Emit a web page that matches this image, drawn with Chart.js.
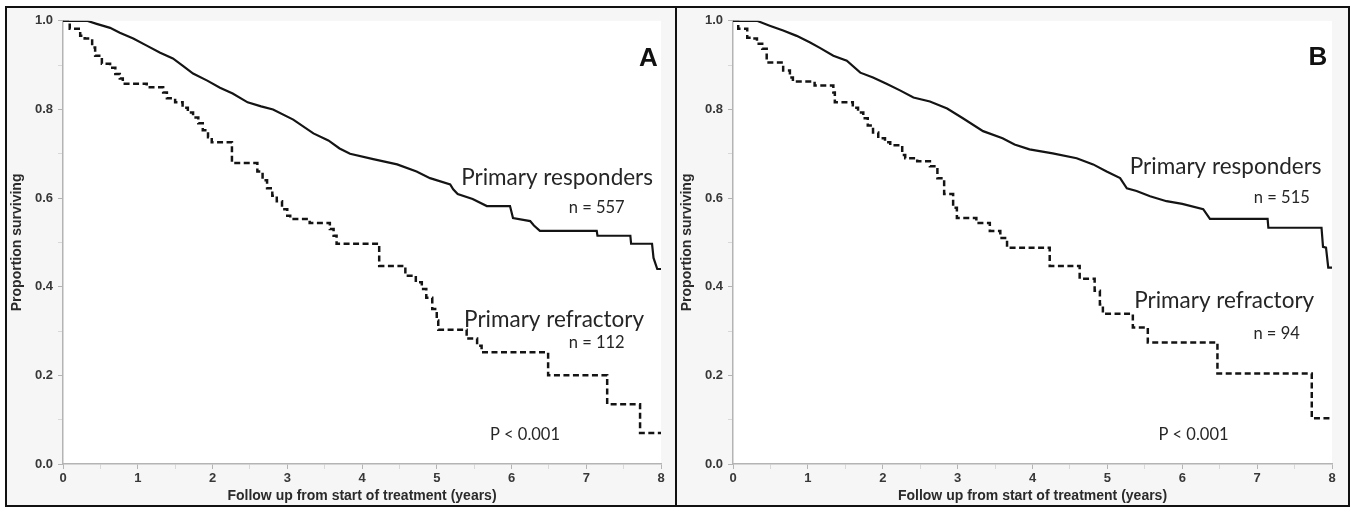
<!DOCTYPE html>
<html>
<head>
<meta charset="utf-8">
<script src="https://cdn.jsdelivr.net/npm/chart.js@4.4.1/dist/chart.umd.min.js"></script>
<style>
  html, body { margin: 0; padding: 0; background: #fff; }
  body { width: 1355px; height: 508px; position: relative; overflow: hidden; }
  .panel { position: absolute; top: 6px; height: 497px; border: 2px solid #111; background: #f6f6f6; }
  #pa { left: 5px; width: 668px; }
  #pb { left: 677px; width: 671px; border-left: none; }
  canvas { display: block; }
</style>
</head>
<body>
<div class="panel" id="pa"><canvas id="chartA" width="668" height="497"></canvas></div>
<div class="panel" id="pb"><canvas id="chartB" width="671" height="497"></canvas></div>
<script>
/* Kaplan-Meier curves, two panels.
   Times in years, survival as proportion. */
var aRespT = [0, 0.32, 0.45, 0.63, 0.76, 0.94, 1.12, 1.3, 1.47, 1.6, 1.74, 1.93, 2.1, 2.27, 2.47, 2.65, 2.81, 3.08, 3.35, 3.55, 3.7, 3.84, 4.15, 4.47, 4.73, 4.91, 5.18, 5.22, 5.28, 5.48, 5.67, 5.98, 6.02, 6.25, 6.3, 6.38, 7.14, 7.15, 7.59, 7.6, 7.88, 7.9, 7.93, 7.95, 8.0];
var aRespS = [1, 1, 0.993, 0.984, 0.973, 0.96, 0.944, 0.928, 0.915, 0.899, 0.881, 0.865, 0.849, 0.836, 0.816, 0.807, 0.80, 0.777, 0.746, 0.73, 0.712, 0.70, 0.688, 0.676, 0.66, 0.645, 0.631, 0.62, 0.609, 0.598, 0.582, 0.582, 0.555, 0.548, 0.538, 0.526, 0.526, 0.515, 0.515, 0.497, 0.497, 0.465, 0.45, 0.44, 0.44];
var aRefrT = [0, 0.09, 0.23, 0.29, 0.39, 0.43, 0.52, 0.63, 0.7, 0.76, 0.8, 1.12, 1.34, 1.39, 1.5, 1.6, 1.67, 1.74, 1.81, 1.87, 1.94, 1.99, 2.26, 2.6, 2.67, 2.73, 2.8, 2.86, 2.93, 3.0, 3.04, 3.3, 3.57, 3.62, 3.66, 4.23, 4.58, 4.72, 4.8, 4.86, 4.94, 5.0, 5.02, 5.4, 5.54, 5.6, 6.49, 7.28, 7.72, 8.0];
var aRefrS = [1, 0.982, 0.966, 0.96, 0.94, 0.921, 0.903, 0.894, 0.88, 0.87, 0.858, 0.85, 0.838, 0.825, 0.816, 0.804, 0.793, 0.782, 0.769, 0.753, 0.737, 0.726, 0.679, 0.66, 0.64, 0.622, 0.605, 0.593, 0.575, 0.56, 0.553, 0.544, 0.53, 0.515, 0.497, 0.447, 0.425, 0.41, 0.395, 0.375, 0.35, 0.324, 0.303, 0.283, 0.267, 0.252, 0.20, 0.135, 0.07, 0.07];

var bRespT = [0, 0.32, 0.49, 0.67, 0.85, 1.03, 1.16, 1.34, 1.52, 1.7, 1.87, 2.05, 2.23, 2.41, 2.63, 2.86, 3.07, 3.34, 3.6, 3.76, 3.96, 4.27, 4.59, 4.81, 4.99, 5.17, 5.26, 5.39, 5.57, 5.79, 6.0, 6.28, 6.37, 7.14, 7.15, 7.86, 7.88, 7.92, 7.95, 8.0];
var bRespS = [1, 1, 0.989, 0.978, 0.966, 0.951, 0.939, 0.921, 0.91, 0.883, 0.872, 0.858, 0.843, 0.827, 0.818, 0.802, 0.78, 0.751, 0.735, 0.721, 0.71, 0.701, 0.69, 0.676, 0.66, 0.645, 0.622, 0.616, 0.604, 0.593, 0.587, 0.575, 0.553, 0.553, 0.533, 0.533, 0.49, 0.488, 0.443, 0.443];
var bRefrT = [0, 0.07, 0.19, 0.25, 0.32, 0.39, 0.45, 0.67, 0.76, 0.8, 1.09, 1.34, 1.36, 1.6, 1.67, 1.74, 1.8, 1.87, 1.94, 2.03, 2.1, 2.26, 2.3, 2.46, 2.63, 2.73, 2.82, 2.94, 2.99, 3.25, 3.43, 3.57, 3.66, 4.23, 4.63, 4.83, 4.9, 4.94, 5.34, 5.54, 6.47, 7.73, 8.0];
var bRefrS = [1, 0.982, 0.962, 0.96, 0.948, 0.937, 0.906, 0.888, 0.872, 0.863, 0.854, 0.838, 0.816, 0.804, 0.793, 0.78, 0.764, 0.748, 0.735, 0.726, 0.719, 0.697, 0.69, 0.683, 0.672, 0.645, 0.609, 0.578, 0.555, 0.544, 0.526, 0.51, 0.488, 0.447, 0.418, 0.391, 0.36, 0.339, 0.308, 0.274, 0.204, 0.103, 0.103];

var xTicks = [0, 1, 2, 3, 4, 5, 6, 7, 8];
var yTicks = [0, 0.2, 0.4, 0.6, 0.8, 1.0];
var xTitle = "Follow up from start of treatment (years)";
var yTitle = "Proportion surviving";
var groupResp = "Primary responders";
var groupRefr = "Primary refractory";
var pValue = "P < 0.001";
var aN = { resp: 557, refr: 112 };
var bN = { resp: 515, refr: 94 };

(function () {
  "use strict";
  var zip = function (t, s) { return t.map(function (v, i) { return { x: v, y: s[i] }; }); };
  var near = function (list, v) { return list.some(function (t) { return Math.abs(t - v) < 1e-6; }); };
  var axisGrey = "#b4b4b4";
  var tickFont = { family: "'Liberation Sans', Arial, sans-serif", size: 13, weight: "bold" };
  var titleFont = { family: "'Liberation Sans', Arial, sans-serif", size: 14, weight: "bold" };
  var noteFamily = "Lato, 'Open Sans', sans-serif";

  // white plot area over the grey panel
  var plotBg = {
    id: "plotBg",
    beforeDraw: function (chart) {
      var a = chart.chartArea, ctx = chart.ctx;
      ctx.save();
      ctx.fillStyle = "#ffffff";
      ctx.fillRect(a.left, a.top, a.right - a.left, a.bottom - a.top);
      ctx.restore();
    },
  };

  // text labels placed in data coordinates
  var notes = {
    id: "notes",
    afterDraw: function (chart, args, opts) {
      var ctx = chart.ctx, xs = chart.scales.x, ys = chart.scales.y;
      ctx.save();
      ctx.textAlign = "center";
      ctx.textBaseline = "alphabetic";
      (opts.items || []).forEach(function (n) {
        ctx.font = n.font;
        ctx.fillStyle = n.color || "#262626";
        ctx.fillText(n.text, xs.getPixelForValue(n.x), ys.getPixelForValue(n.y));
      });
      ctx.restore();
    },
  };

  function build(canvasId, resp, refr, padRight, items) {
    new Chart(document.getElementById(canvasId), {
      type: "line",
      data: {
        datasets: [
          {
            label: groupResp,
            data: resp,
            borderColor: "#141414",
            borderWidth: 2.2,
            pointRadius: 0,
            tension: 0,
          },
          {
            label: groupRefr,
            data: refr,
            borderColor: "#141414",
            borderWidth: 2.5,
            borderDash: [6, 3.5],
            pointRadius: 0,
            stepped: "before",
          },
        ],
      },
      options: {
        responsive: false,
        animation: false,
        events: [],
        layout: { padding: { left: 0, top: 11, right: padRight, bottom: 0 } },
        scales: {
          x: {
            type: "linear",
            min: 0,
            max: 8,
            afterFit: function (s) { s.height = 41; },
            afterBuildTicks: function (s) {
              s.ticks = [];
              for (var i = 0; i <= 16; i++) s.ticks.push({ value: i / 2 });
            },
            ticks: {
              autoSkip: false,
              maxRotation: 0,
              padding: 2,
              color: "#383838",
              font: tickFont,
              callback: function (v) { return near(xTicks, v) ? String(v) : ""; },
            },
            grid: {
              drawOnChartArea: false,
              tickLength: 5,
              tickColor: function (c) { return c.tick && near(xTicks, c.tick.value) ? axisGrey : "#d8d8d8"; },
            },
            border: { color: axisGrey, width: 1.5 },
            title: { display: true, text: xTitle, color: "#2a2a2a", font: titleFont, padding: { top: 0, bottom: 0 } },
          },
          y: {
            min: 0,
            max: 1,
            afterFit: function (s) { s.width = 56; },
            afterBuildTicks: function (s) {
              s.ticks = [];
              for (var i = 0; i <= 10; i++) s.ticks.push({ value: i / 10 });
            },
            ticks: {
              autoSkip: false,
              padding: 5,
              color: "#383838",
              font: tickFont,
              callback: function (v) { return near(yTicks, v) ? v.toFixed(1) : ""; },
            },
            grid: {
              drawOnChartArea: false,
              tickLength: 5,
              tickColor: function (c) { return c.tick && near(yTicks, c.tick.value) ? axisGrey : "#d8d8d8"; },
            },
            border: { color: axisGrey, width: 1.5 },
            title: { display: true, text: yTitle, color: "#2a2a2a", font: titleFont, padding: { top: 2, bottom: 0 } },
          },
        },
        plugins: {
          legend: { display: false },
          tooltip: { enabled: false },
          notes: { items: items },
        },
      },
      plugins: [plotBg, notes],
    });
  }

  var big = "22.5px " + noteFamily;
  var small = "16.5px " + noteFamily;
  var letter = "bold 26px 'Liberation Sans', Arial, sans-serif";

  build("chartA", zip(aRespT, aRespS), zip(aRefrT, aRefrS), 14, [
    { text: "A", x: 7.83, y: 0.899, font: letter, color: "#111" },
    { text: groupResp, x: 6.61, y: 0.629, font: big },
    { text: "n = " + aN.resp, x: 7.14, y: 0.566, font: small },
    { text: groupRefr, x: 6.57, y: 0.31, font: big },
    { text: "n = " + aN.refr, x: 7.14, y: 0.261, font: small },
    { text: pValue, x: 6.18, y: 0.054, font: small },
  ]);
  build("chartB", zip(bRespT, bRespS), zip(bRefrT, bRefrS), 16, [
    { text: "B", x: 7.81, y: 0.901, font: letter, color: "#111" },
    { text: groupResp, x: 6.58, y: 0.654, font: big },
    { text: "n = " + bN.resp, x: 7.33, y: 0.589, font: small },
    { text: groupRefr, x: 6.56, y: 0.353, font: big },
    { text: "n = " + bN.refr, x: 7.26, y: 0.283, font: small },
    { text: pValue, x: 6.15, y: 0.054, font: small },
  ]);
})();
</script>
</body>
</html>
